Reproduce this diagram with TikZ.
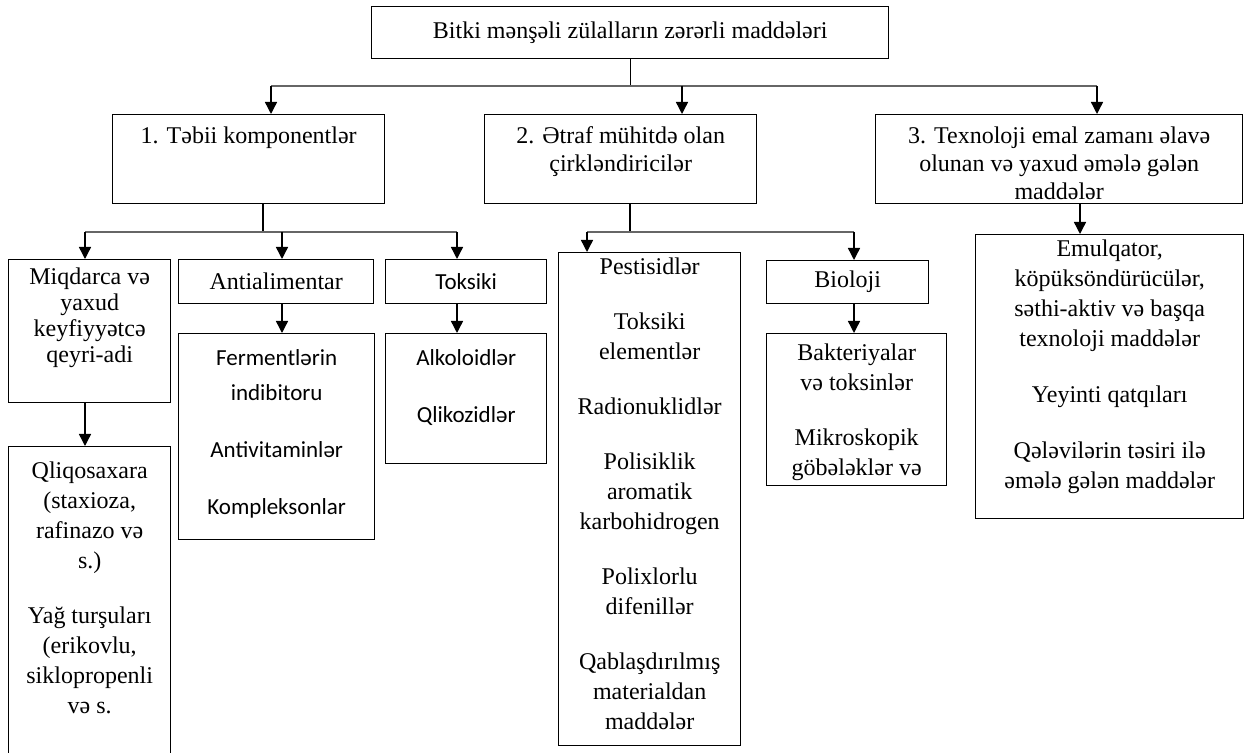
\documentclass[tikz,border=0pt]{standalone}
\usepackage{fontspec}
\setmainfont{Liberation Serif}
\newfontfamily\calfont{Carlito}
\usetikzlibrary{positioning}
\usetikzlibrary{arrows.meta}

\tikzset{
  box/.style={draw, line width=0.7pt, rectangle, anchor=north west, inner sep=0pt,
    align=center, font=\fontsize{12}{15}\selectfont},
  sz/.style 2 args={minimum width=#1*0.5pt, minimum height=#2*0.5pt},
  txt/.style={align=center, inner sep=0pt, font=\fontsize{12}{15}\selectfont},
  sans/.style={align=center, inner sep=0pt, font=\calfont\fontsize{11.5}{17.5}\selectfont},
  arr/.style={line width=0.7pt, -{Triangle[width=6pt,length=6pt]}},
  stem/.style={line width=0.7pt},
  bar/.style={black!60, line width=1pt}
}

\begin{document}
\begin{tikzpicture}[x=0.5pt, y=-0.5pt]
\useasboundingbox (0,0) rectangle (1248,753);

% boxes
\node[box, sz={517}{52}] (top) at (371,6) {Bitki mənşəli zülalların zərərli maddələri};

\node[box, sz={272}{89}] (b1) at (112,114) {};
\node[box, sz={272}{89}] (b2) at (484,114) {};
\node[box, sz={367}{89}] (b3) at (875,114) {};

\node[box, sz={162}{143}] (miq) at (8,259) {};
\node[box, sz={162}{312}] (qli) at (8,446) {};
\node[box, sz={195}{44}] (ant) at (178,259) {Antialimentar};
\node[box, sz={196}{206}] (fer) at (178,333) {};
\node[box, sz={161}{44}, font=\calfont\fontsize{11.5}{14}\selectfont] (tok) at (385,259) {Toksiki};
\node[box, sz={161}{130}] (alk) at (385,333) {};
\node[box, sz={182}{493}] (pes) at (558,252) {};
\node[box, sz={162}{43}] (bio) at (766,260) {Bioloji};
\node[box, sz={180}{152}] (bak) at (766,333) {};
\node[box, sz={268}{284}] (emu) at (975,234) {};

% texts
\node[txt, below=6pt of b1.north] (t1) {1. Təbii komponentlər};
\node[txt, below=6pt of b2.north, font=\fontsize{12}{14}\selectfont] (t2)
  {2. Ətraf mühitdə olan\\çirkləndiricilər};
\node[txt, below=6pt of b3.north, font=\fontsize{12}{14}\selectfont] (t3)
  {3. Texnoloji emal zamanı əlavə\\olunan və yaxud əmələ gələn\\maddələr};

\node[txt, below=4pt of miq.north, font=\fontsize{12}{13}\selectfont] (tmiq)
  {Miqdarca və\\yaxud\\keyfiyyətcə\\qeyri-adi};
\node[txt, below=7.5pt of qli.north] (tqli)
  {Qliqosaxara\\(staxioza,\\rafinazo və\\s.)\\[12.5pt]Yağ turşuları\\(erikovlu,\\siklopropenli\\və s.};
\node[sans, below=8pt of fer.north] (tfer)
  {Fermentlərin\\indibitoru\\[11pt]Antivitaminlər\\[11pt]Kompleksonlar};
\node[sans, below=8pt of alk.north] (talk)
  {Alkoloidlər\\[11pt]Qlikozidlər};
\node[txt, below=2.5pt of pes.north] (tpes)
  {Pestisidlər\\[12.5pt]Toksiki\\elementlər\\[12.5pt]Radionuklidlər\\[12.5pt]Polisiklik\\aromatik\\karbohidrogen\\[12.5pt]Polixlorlu\\difenillər\\[12.5pt]Qablaşdırılmış\\materialdan\\maddələr};
\node[txt, below=5pt of bak.north] (tbak)
  {Bakteriyalar\\və toksinlər\\[12.5pt]Mikroskopik\\göbələklər və};
\node[txt, below=2.5pt of emu.north] (temu)
  {Emulqator,\\köpüksöndürücülər,\\səthi-aktiv və başqa\\texnoloji maddələr\\[13pt]Yeyinti qatqıları\\[13pt]Qələvilərin təsiri ilə\\əmələ gələn maddələr};

% connectors, first level
\coordinate (a1) at (271,86);
\coordinate (a2) at (682,86);
\coordinate (a3) at (1097,86);
\draw[stem] (top.south) -- (top.south |- a1);
\draw[bar] (a1) -- (a3);
\draw[arr] (a1) -- (a1 |- b1.north);
\draw[arr] (a2) -- (a2 |- b2.north);
\draw[arr] (a3) -- (a3 |- b3.north);

% second level
\coordinate (c0) at (263,232);
\coordinate (c1) at (85,232);
\coordinate (c2) at (282,232);
\coordinate (c3) at (457,232);
\draw[stem] (c0 |- b1.south) -- (c0);
\draw[bar] (c1) -- (c3);
\draw[arr] (c1) -- (c1 |- miq.north);
\draw[arr] (c2) -- (c2 |- ant.north);
\draw[arr] (c3) -- (c3 |- tok.north);

\coordinate (d0) at (630,232);
\coordinate (d1) at (587,232);
\coordinate (d2) at (854,232);
\draw[stem] (d0 |- b2.south) -- (d0);
\draw[bar] (d1) -- (d2);
\draw[arr] (d1) -- (d1 |- pes.north);
\draw[arr] (d2) -- (d2 |- bio.north);

\coordinate (e0) at (1080,0);
\draw[arr] (e0 |- b3.south) -- (e0 |- emu.north);

% third level
\draw[arr] (c1 |- miq.south) -- (c1 |- qli.north);
\draw[arr] (c2 |- ant.south) -- (c2 |- fer.north);
\draw[arr] (c3 |- tok.south) -- (c3 |- alk.north);
\draw[arr] (d2 |- bio.south) -- (d2 |- bak.north);
\end{tikzpicture}
\end{document}
